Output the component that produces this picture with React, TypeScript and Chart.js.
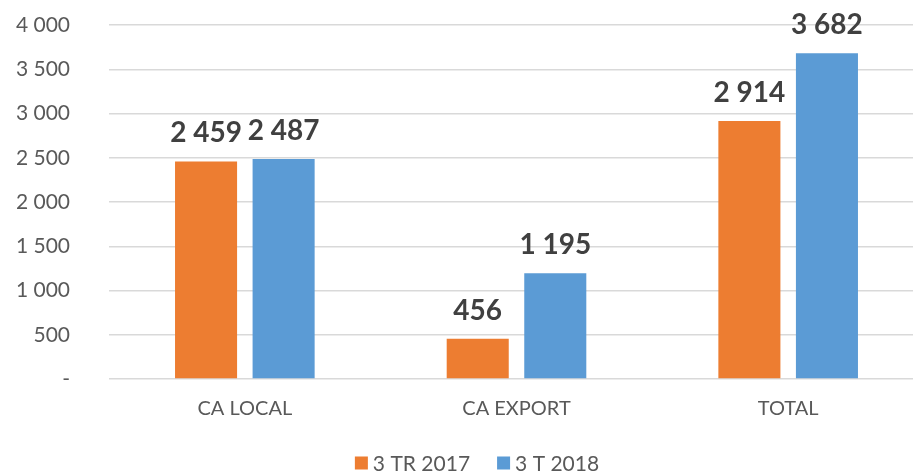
import React, { useEffect, useRef } from 'react';
import { Chart, registerables } from 'chart.js';

Chart.register(...registerables);

const categories = ['CA LOCAL', 'CA EXPORT', 'TOTAL'];
const seriesLabels = ['3 TR 2017', '3 T 2018'];
const values2017 = [2459, 456, 2914];
const values2018 = [2487, 1195, 3682];
const seriesColors = ['#ED7D31', '#5B9BD5'];
const yMin = 0;
const yMax = 4000;
const yStep = 500;

const FONT = 'Lato, "Open Sans", sans-serif';
const TEXT = '#595959';
const LABEL = '#404040';

const fmt = (v: number) =>
  v === 0 ? '-' : String(Math.round(v)).replace(/\B(?=(\d{3})+(?!\d))/g, ' ');

const CANVAS_W = 940;
const CANVAS_H = 474;

const dataLabelPlugin = {
  id: 'dataLabels',
  afterDatasetsDraw(chart: any) {
    const ctx = chart.ctx;
    ctx.save();
    ctx.font = `bold 28px ${FONT}`;
    ctx.fillStyle = LABEL;
    ctx.textAlign = 'center';
    ctx.textBaseline = 'alphabetic';
    chart.data.datasets.forEach((ds: any, i: number) => {
      const meta = chart.getDatasetMeta(i);
      meta.data.forEach((el: any, j: number) => {
        ctx.fillText(fmt(ds.data[j]), el.x, el.y - 19);
      });
    });
    ctx.restore();
  },
};

const legendPlugin = {
  id: 'customLegend',
  afterDraw(chart: any) {
    const ctx = chart.ctx;
    ctx.save();
    ctx.font = `21px ${FONT}`;
    ctx.textBaseline = 'middle';
    ctx.textAlign = 'left';
    const box = 13;
    const gap = 5;
    const itemGap = 27;
    const items = chart.data.datasets.map((ds: any) => ({
      label: ds.label,
      color: ds.backgroundColor,
      w: box + gap + ctx.measureText(ds.label).width,
    }));
    const total = items.reduce((s: number, it: any) => s + it.w, 0) + itemGap * (items.length - 1);
    const centerX = 477;
    const cy = 463;
    let x = centerX - total / 2;
    items.forEach((it: any) => {
      ctx.fillStyle = it.color;
      ctx.fillRect(x, cy - box / 2, box, box);
      ctx.fillStyle = TEXT;
      ctx.fillText(it.label, x + box + gap, cy + 1);
      x += it.w + itemGap;
    });
    ctx.restore();
  },
};

export default function App() {
  const ref = useRef<HTMLCanvasElement | null>(null);

  useEffect(() => {
    if (!ref.current) return;
    const chart = new Chart(ref.current, {
      type: 'bar',
      data: {
        labels: categories,
        datasets: [
          {
            label: seriesLabels[0],
            data: values2017,
            backgroundColor: seriesColors[0],
            barPercentage: 0.8,
            categoryPercentage: 0.571,
          },
          {
            label: seriesLabels[1],
            data: values2018,
            backgroundColor: seriesColors[1],
            barPercentage: 0.8,
            categoryPercentage: 0.571,
          },
        ],
      },
      options: {
        responsive: false,
        animation: false,
        devicePixelRatio: 1,
        layout: { padding: { left: 0, right: 16, top: 25, bottom: 0 } },
        plugins: {
          legend: { display: false },
          tooltip: { enabled: false },
        },
        scales: {
          x: {
            grid: { display: false, drawTicks: false },
            border: { display: false },
            ticks: {
              color: TEXT,
              font: { family: FONT, size: 20 },
              padding: 18,
            },
            afterFit: (s: any) => {
              s.height = 95;
            },
          },
          y: {
            min: yMin,
            max: yMax,
            grid: {
              color: '#D9D9D9',
              lineWidth: 1.5,
              drawTicks: true,
              tickLength: 39,
              tickColor: 'rgba(0,0,0,0)',
            },
            border: { display: false },
            ticks: {
              stepSize: yStep,
              color: TEXT,
              font: { family: FONT, size: 21 },
              padding: 0,
              callback: (v: any) => fmt(Number(v)),
            },
            afterFit: (s: any) => {
              s.width = 109;
            },
          },
        },
      },
      plugins: [dataLabelPlugin, legendPlugin],
    });
    return () => chart.destroy();
  }, []);

  return (
    <div
      style={{
        position: 'fixed',
        left: 0,
        top: 0,
        width: 913,
        height: 474,
        overflow: 'hidden',
        background: '#fff',
      }}
    >
      <canvas ref={ref} width={CANVAS_W} height={CANVAS_H} style={{ display: 'block' }} />
    </div>
  );
}
